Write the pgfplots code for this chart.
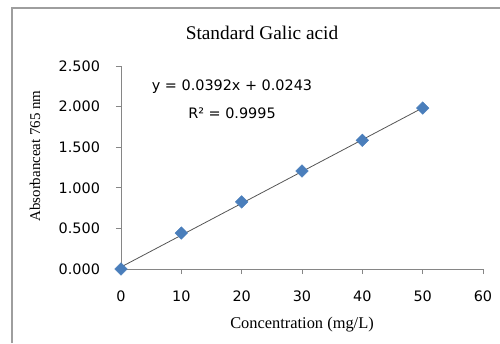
\documentclass[border=0pt]{standalone}
\usepackage{pgfplots}
\pgfplotsset{compat=1.18}
\usepackage{fontspec}
\setmainfont{Liberation Serif}
\newfontfamily\tickfont{DejaVu Sans}
\definecolor{ptblue}{HTML}{4A7EBB}
\definecolor{axgray}{HTML}{868686}
\definecolor{lngray}{HTML}{555555}
\begin{document}
\begin{tikzpicture}
\path[use as bounding box] (0,0) rectangle (375pt,257.25pt);
\draw[axgray!80, line width=0.8pt] (9pt,0) -- (9pt,251.25pt) -- (375pt,251.25pt);
\begin{axis}[
  at={(90.75pt,55.5pt)}, anchor=south west,
  scale only axis, width=271.5pt, height=152.25pt,
  xmin=0, xmax=60, ymin=0, ymax=2.5,
  axis lines*=left,
  axis line style={axgray, line width=0.6pt},
  xtick={0,10,...,60},
  ytick={0,0.5,...,2.5},
  tick align=outside,
  major tick length=3.75pt,
  tick style={axgray, line width=0.6pt},
  /pgf/number format/assume math mode=true,
  y tick label style={/pgf/number format/fixed, /pgf/number format/fixed zerofill, /pgf/number format/precision=3, xshift=-8.5pt},
  ticklabel style={font=\tickfont\fontsize{10.8}{12}\selectfont},
  x tick label style={yshift=-9pt},
  clip=false,
]
\addplot[lngray, line width=0.6pt, forget plot] coordinates {(0,0.0243) (50,1.9843)};
\addplot[only marks, mark=square*, mark size=3.3pt, mark options={rotate=45, fill=ptblue, draw=ptblue}]
  coordinates {(0,0) (10,0.443) (20,0.826) (30,1.207) (40,1.585) (50,1.982)};
\end{axis}
\node[font=\fontsize{14.5}{16}\selectfont] at (196.5pt,232.5pt) {Standard Galic acid};
\node[font=\tickfont\fontsize{10.8}{12}\selectfont] at (174pt,192pt) {y = 0.0392x + 0.0243};
\node[font=\tickfont\fontsize{10.8}{12}\selectfont] at (174pt,172.5pt) {R² = 0.9995};
\node[font=\fontsize{12.3}{14}\selectfont] at (226.5pt,13.5pt) {Concentration (mg/L)};
\node[font=\fontsize{11.2}{12}\selectfont, rotate=90] at (26.25pt,140.25pt) {Absorbanceat 765 nm};
\end{tikzpicture}
\end{document}
